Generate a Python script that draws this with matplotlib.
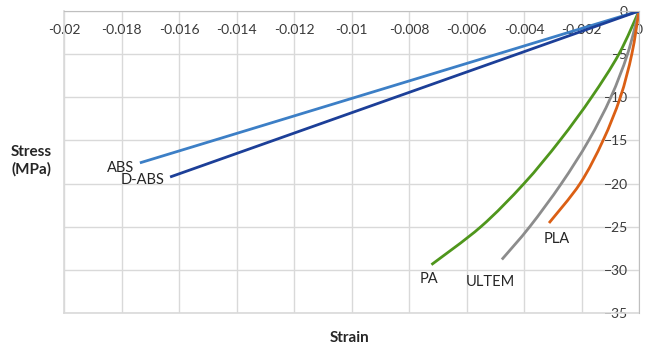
import matplotlib
matplotlib.use("Agg")
import matplotlib.pyplot as plt
from matplotlib.path import Path
from matplotlib.patches import PathPatch
import numpy as np

plt.rcParams['font.family'] = ['Lato', 'DejaVu Sans']

# Data (strain, stress in MPa)
abs_strain = [0.0, -0.01736]
abs_stress = [0.0, -17.6]
dabs_strain = [0.0, -0.01631]
dabs_stress = [0.0, -19.24]
pa_strain = [0.0, -0.0007, -0.00165, -0.00275, -0.0040, -0.0055, -0.00722]
pa_stress = [0.0, -5.0, -10.0, -15.0, -20.0, -25.0, -29.4]
ultem_strain = [0.0, -0.0004, -0.00098, -0.00175, -0.0027, -0.0038, -0.00477]
ultem_stress = [0.0, -5.0, -10.0, -15.0, -20.0, -25.0, -28.8]
pla_strain = [0.0, -0.00025, -0.00065, -0.00125, -0.00205, -0.00313]
pla_stress = [0.0, -5.0, -10.0, -15.0, -20.0, -24.57]

xticks = [-0.02, -0.018, -0.016, -0.014, -0.012, -0.01, -0.008, -0.006, -0.004, -0.002, 0]
xticklabels = ["-0.02", "-0.018", "-0.016", "-0.014", "-0.012", "-0.01", "-0.008", "-0.006", "-0.004", "-0.002", "0"]
yticks = [-35, -30, -25, -20, -15, -10, -5, 0]


def smooth_line(ax, xs, ys, color, lw):
    """Draw a smoothed line (like a spreadsheet 'smoothed line') through the points
    using cubic Bezier segments (Catmull-Rom control points)."""
    p = np.column_stack([xs, ys]).astype(float)
    n = len(p)
    if n < 3:
        ax.plot(xs, ys, color=color, lw=lw, solid_capstyle='butt')
        return
    verts = [p[0]]
    codes = [Path.MOVETO]
    for i in range(n - 1):
        p0 = p[i - 1] if i > 0 else p[i]
        p1 = p[i]
        p2 = p[i + 1]
        p3 = p[i + 2] if i + 2 < n else p[i + 1]
        c1 = p1 + (p2 - p0) / 6.0
        c2 = p2 - (p3 - p1) / 6.0
        verts += [c1, c2, p2]
        codes += [Path.CURVE4] * 3
    patch = PathPatch(Path(verts, codes), fill=False, edgecolor=color, lw=lw,
                      capstyle='butt', joinstyle='round')
    ax.add_patch(patch)


fig = plt.figure(figsize=(6.49, 3.47), dpi=100)
ax = fig.add_axes([64/649, 1-313/347, 575/649, 302/347])

grid_c = '#d9d9d9'
ax.set_xlim(-0.02, 0)
ax.set_ylim(-35, 0)
ax.set_xticks(xticks)
ax.set_xticklabels(xticklabels)
ax.set_yticks(yticks)
ax.grid(True, color=grid_c, linewidth=1.0)
ax.set_axisbelow(True)

for s in ['top', 'right']:
    ax.spines[s].set_visible(False)
ax.spines['left'].set_position(('data', 0))
ax.spines['bottom'].set_position(('data', 0))
ax.spines['left'].set_color('#bfbfbf')
ax.spines['bottom'].set_color('#bfbfbf')
ax.tick_params(axis='both', length=0, labelsize=10, colors='#3a3a3a')
ax.tick_params(axis='x', pad=9)
ax.tick_params(axis='y', pad=8)

# frame edges at limits
ax.axvline(-0.02, color=grid_c, lw=1.2, clip_on=False)
ax.axhline(-35, color=grid_c, lw=1.2, clip_on=False)

lw = 2.0
ax.plot(abs_strain, abs_stress, color='#3c7fc6', lw=lw, solid_capstyle='butt')
ax.plot(dabs_strain, dabs_stress, color='#1c3f98', lw=lw, solid_capstyle='butt')
smooth_line(ax, pa_strain, pa_stress, '#4f961c', lw)
smooth_line(ax, ultem_strain, ultem_stress, '#8c8c8c', lw)
smooth_line(ax, pla_strain, pla_stress, '#db5f14', lw)

tc = '#262626'
fs = 10.5
ax.text(abs_strain[-1] - 0.0002, abs_stress[-1] - 0.6, "ABS", ha='right', va='center', fontsize=fs, color=tc)
ax.text(dabs_strain[-1] - 0.0002, dabs_stress[-1] - 0.4, "D-ABS", ha='right', va='center', fontsize=fs, color=tc)
ax.text(pa_strain[-1] - 0.0001, pa_stress[-1] - 1.7, "PA", ha='center', va='center', fontsize=fs, color=tc)
ax.text(ultem_strain[-1] - 0.0004, ultem_stress[-1] - 2.6, "ULTEM", ha='center', va='center', fontsize=fs, color=tc)
ax.text(pla_strain[-1] + 0.00025, pla_stress[-1] - 1.8, "PLA", ha='center', va='center', fontsize=fs, color=tc)

fig.text(31/649, 1-161/347, "Stress\n(MPa)", ha='center', va='center', fontsize=11,
         fontweight='bold', color=tc, linespacing=1.3)
fig.text(350/649, 1-338/347, "Strain", ha='center', va='center', fontsize=11,
         fontweight='bold', color=tc)

fig.savefig("out.png", dpi=100)
